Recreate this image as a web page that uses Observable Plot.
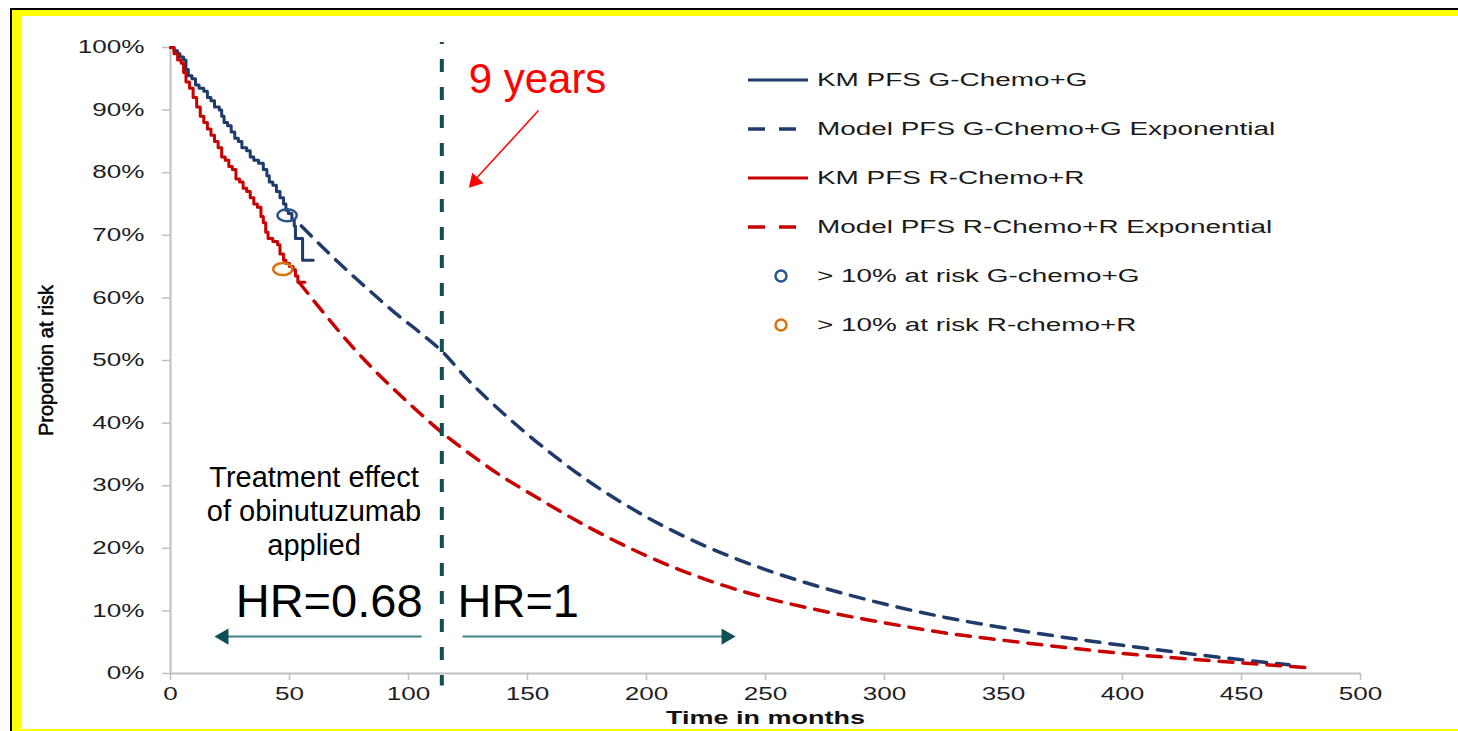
<!DOCTYPE html>
<html><head><meta charset="utf-8">
<script src="https://cdn.jsdelivr.net/npm/d3@7"></script>
<script src="https://cdn.jsdelivr.net/npm/@observablehq/plot@0.6"></script>
<style>
html,body{margin:0;padding:0;background:#fff;width:1458px;height:731px;overflow:hidden;}
#wrap{position:relative;width:1458px;height:731px;}
.frame{position:absolute;}
#chart{position:absolute;left:0;top:0;}
#chart svg g[aria-label="y-axis tick"], #chart svg g[aria-label="x-axis tick"]{stroke:#bfbfbf;stroke-width:1.5px;}
</style></head>
<body><div id="wrap">
<div id="chart"></div>
<div class="frame" style="left:10px;top:8px;width:1448px;height:2px;background:#000"></div>
<div class="frame" style="left:10px;top:8px;width:2px;height:723px;background:#000"></div>
<div class="frame" style="left:12px;top:10px;width:1446px;height:6px;background:#ffff00"></div>
<div class="frame" style="left:12px;top:10px;width:9px;height:721px;background:#ffff00"></div>
<div class="frame" style="left:12px;top:729px;width:1446px;height:2px;background:#ffff00"></div>
</div>
<script>
// ---------- data ----------
const xTicks = [0, 50, 100, 150, 200, 250, 300, 350, 400, 450, 500];
const yTicks = [0, 0.1, 0.2, 0.3, 0.4, 0.5, 0.6, 0.7, 0.8, 0.9, 1.0];

// Kaplan-Meier PFS, G-Chemo+G (months, % progression-free)
const kmGMonths = [0, 1.5, 3, 4, 5.5, 6.5, 7.5, 9, 10.5, 12, 14, 15.5, 17, 18.5, 20.5, 21.5, 22.5, 24, 25.5, 27, 28.5, 30, 32, 33.5, 35, 37, 39, 40.5, 41.5, 43, 44.5, 46, 47.5, 48.5, 49.5, 51, 52, 52.5, 55.5, 60];
const kmGSurv   = [100, 99.5, 99, 98.5, 98, 96.5, 95.5, 95, 94, 93.5, 93, 92, 91.5, 90.5, 90, 89, 88, 87.5, 86.5, 85.5, 85, 84, 83.5, 82.5, 82, 81.5, 80.5, 79.5, 78.5, 78, 77, 76, 75, 74, 73.5, 72.5, 71.5, 69.5, 66, 66];

// Kaplan-Meier PFS, R-Chemo+R
const kmRMonths = [0, 1.5, 3, 4.5, 5.5, 6.5, 8, 9.5, 11, 12.5, 14, 15.5, 17, 18.5, 20, 21.5, 23, 24.5, 26, 27.5, 29, 30.5, 32, 33.5, 35, 36.5, 38, 39, 40, 41, 43, 45, 46, 47.5, 48.5, 50, 51.5, 52.5, 53.5, 56.5];
const kmRSurv   = [100, 99, 98, 97.5, 96, 94.5, 93.5, 92, 90.5, 89, 88, 87, 86, 85, 84, 82.5, 82, 81, 80.5, 79, 78.5, 77.5, 77, 76, 75, 74.5, 73, 72, 70.5, 69.5, 69, 68.5, 67, 66, 65.5, 65, 64.5, 63.5, 62.5, 62.5];

// Exponential model PFS, G-Chemo+G
const modelGMonths = [55, 65, 75, 85, 95, 105, 114, 125, 140, 150, 175, 200, 225, 250, 275, 300, 325, 350, 375, 400, 425, 450, 470];
const modelGSurv   = [71.5, 67.7, 64.1, 60.7, 57.4, 54.4, 51.5, 46.9, 41.5, 38.2, 30.9, 25.0, 20.3, 16.6, 13.6, 11.1, 9.0, 7.3, 5.8, 4.5, 3.3, 2.2, 1.4];

// Exponential model PFS, R-Chemo+R
const modelRMonths = [54, 65, 75, 85, 95, 105, 114, 125, 140, 150, 175, 200, 225, 250, 275, 300, 325, 350, 375, 400, 425, 450, 478];
const modelRSurv   = [62.5, 57.3, 52.8, 48.7, 45, 41.5, 38.5, 35.3, 31.3, 29, 23.5, 18.8, 15, 12.1, 9.9, 8.1, 6.5, 5.3, 4.2, 3.2, 2.4, 1.7, 0.9];

// last time point with > 10% at risk
const atRiskGMonth = 49.0, atRiskGSurv = 73.2;
const atRiskRMonth = 47.2, atRiskRSurv = 64.6;

// treatment-effect switch point
const switchMonths = 114;

const legendLabels = ["KM PFS G-Chemo+G", "Model PFS G-Chemo+G Exponential", "KM PFS R-Chemo+R", "Model PFS R-Chemo+R Exponential", "> 10% at risk G-chemo+G", "> 10% at risk R-chemo+R"];
const legendKinds  = ["solid", "dash", "solid", "dash", "circle", "circle"];

// ---------- styles ----------
const BLUE = "#1f3b6b", RED = "#c80000", BLUE_C = "#2a5490", ORANGE = "#d8730f";
const TEAL = "#0f4f57", TEAL_LINE = "#3f8087", ANN_RED = "#ff0000";
const legendColors = [BLUE, BLUE, RED, RED, BLUE_C, ORANGE];
const FONT = "'Liberation Sans', Arial, Helvetica, sans-serif";

const rows = (xs, ys) => xs.map((m, i) => ({month: m, p: ys[i] / 100}));
const kmG = rows(kmGMonths, kmGSurv), kmR = rows(kmRMonths, kmRSurv);
const modG = rows(modelGMonths, modelGSurv), modR = rows(modelRMonths, modelRSurv);

const ellipse = { draw(ctx, size) {
  const r = Math.sqrt(size / Math.PI), rx = r * 1.6, ry = r, k = 0.5523;
  ctx.moveTo(rx, 0);
  ctx.bezierCurveTo(rx, ry * k, rx * k, ry, 0, ry);
  ctx.bezierCurveTo(-rx * k, ry, -rx, ry * k, -rx, 0);
  ctx.bezierCurveTo(-rx, -ry * k, -rx * k, -ry, 0, -ry);
  ctx.bezierCurveTo(rx * k, -ry, rx, -ry * k, rx, 0);
  ctx.closePath();
}};

const svg = Plot.plot({
  width: 1458, height: 731,
  marginLeft: 170, marginRight: 98, marginTop: 47, marginBottom: 58,
  style: {background: "transparent", fontFamily: FONT, overflow: "visible"},
  x: {domain: [0, 500]},
  y: {domain: [0, 1]},
  marks: [
    Plot.axisY(yTicks, {tickSize: 8, tickPadding: 18, tickFormat: d3.format(".0%"), fontSize: 18, color: "#1f1f1f", label: null}),
    Plot.axisX(xTicks, {tickSize: 7, tickPadding: 7, fontSize: 18, color: "#1f1f1f", label: null}),
    Plot.ruleX([0], {y1: 0, y2: 1, stroke: "#bfbfbf", strokeWidth: 2}),
    Plot.ruleY([0], {x1: 0, x2: 500, stroke: "#bfbfbf", strokeWidth: 2}),
    Plot.line(modG, {x: "month", y: "p", stroke: BLUE, strokeWidth: 3.5, strokeDasharray: "14,10", curve: "monotone-x"}),
    Plot.line(modR, {x: "month", y: "p", stroke: RED, strokeWidth: 3.5, strokeDasharray: "14,10", curve: "monotone-x"}),
    Plot.line(kmG, {x: "month", y: "p", stroke: BLUE, strokeWidth: 3, curve: "step-after"}),
    Plot.line(kmR, {x: "month", y: "p", stroke: RED, strokeWidth: 3, curve: "step-after"}),
    Plot.dot([{month: atRiskGMonth, p: atRiskGSurv / 100}], {x: "month", y: "p", symbol: ellipse, r: 6, stroke: BLUE_C, strokeWidth: 2.5, fill: "none"}),
    Plot.dot([{month: atRiskRMonth, p: atRiskRSurv / 100}], {x: "month", y: "p", symbol: ellipse, r: 6, stroke: ORANGE, strokeWidth: 2.5, fill: "none"}),
    Plot.ruleX([switchMonths], {y1: 1.008, y2: -0.02, stroke: TEAL, strokeWidth: 4, strokeDasharray: "13,15", strokeDashoffset: 11}),
    // HR arrows
    Plot.link([{a: switchMonths - 8.5, b: 22}], {x1: "a", x2: "b", y1: 0.059, y2: 0.059, stroke: TEAL_LINE, strokeWidth: 2}),
    Plot.link([{a: switchMonths + 8.7, b: 233}], {x1: "a", x2: "b", y1: 0.059, y2: 0.059, stroke: TEAL_LINE, strokeWidth: 2}),
    Plot.dot([{m: 22.4}], {x: "m", y: () => 0.059, symbol: "triangle", r: 6, fill: TEAL, rotate: 270}),
    Plot.dot([{m: 233.5}], {x: "m", y: () => 0.059, symbol: "triangle", r: 6, fill: TEAL, rotate: 90}),
    Plot.text(["HR=0.68"], {x: switchMonths - 8.1, y: () => 0.1145, textAnchor: "end", fontSize: 47, fill: "#000"}),
    Plot.text(["HR=1"], {x: switchMonths + 6.6, y: () => 0.1145, textAnchor: "start", fontSize: 47, fill: "#000"}),
    Plot.text(["Treatment effect\nof obinutuzumab\napplied"], {x: () => 60.3, y: () => 0.2610, textAnchor: "middle", fontSize: 29, lineHeight: 1.17, fill: "#000"}),
    // 9 years callout
    Plot.text(["9 years"], {x: () => 154.2, y: () => 0.9495, textAnchor: "middle", fontSize: 42, fill: ANN_RED}),
    Plot.link([{a: 154.6, b: 126.6}], {x1: "a", x2: "b", y1: () => 0.8994, y2: () => 0.7830, stroke: ANN_RED, strokeWidth: 1.5}),
    Plot.dot([{m: 127.9}], {x: "m", y: () => 0.7864, symbol: "triangle", r: 5.75, fill: ANN_RED, rotate: 222.4}),
    // axis titles
    Plot.text(["Time in months"], {frameAnchor: "bottom", textAnchor: "middle", dy: 50, fontSize: 19, fontWeight: "bold", fill: "#111"}),
    Plot.text(["Proportion at risk"], {frameAnchor: "left", textAnchor: "middle", dx: -124, rotate: -90, fontSize: 20, fill: "#000", stroke: "#000", strokeWidth: 0.5})
  ]
});
document.getElementById("chart").append(svg);

// legend
const lg = d3.select(svg).append("g").attr("font-family", FONT).attr("font-size", 18).attr("fill", "#1a1a1a").attr("text-anchor", "start");
legendLabels.forEach((lab, i) => {
  const cy = 80 + i * 49, col = legendColors[i], kind = legendKinds[i];
  if (kind === "solid") {
    lg.append("line").attr("x1", 748).attr("x2", 808).attr("y1", cy).attr("y2", cy).attr("stroke", col).attr("stroke-width", 3);
  } else if (kind === "dash") {
    lg.append("line").attr("x1", 748).attr("x2", 796).attr("y1", cy).attr("y2", cy).attr("stroke", col).attr("stroke-width", 3.5).attr("stroke-dasharray", "17,14");
  } else {
    lg.append("circle").attr("cx", 781).attr("cy", cy).attr("r", 5.5).attr("fill", "none").attr("stroke", col).attr("stroke-width", 2.5);
  }
  lg.append("text").attr("class", "stretch-legend").attr("text-anchor", "start").attr("x", 817).attr("y", cy).attr("dy", "0.35em").text(lab);
});

// the original Excel chart was widened: stretch its native texts horizontally
function stretch(nodes, f) {
  nodes.forEach(t => {
    const w = t.getComputedTextLength();
    if (w > 0) { t.setAttribute("textLength", (w * f).toFixed(1)); t.setAttribute("lengthAdjust", "spacingAndGlyphs"); }
  });
}
stretch(svg.querySelectorAll('g[aria-label="y-axis tick label"] text, g[aria-label="x-axis tick label"] text'), 1.45);
stretch(svg.querySelectorAll("text.stretch-legend"), 1.55);
stretch([...svg.querySelectorAll("text")].filter(t => t.textContent === "Time in months"), 1.42);
</script>
</body></html>
